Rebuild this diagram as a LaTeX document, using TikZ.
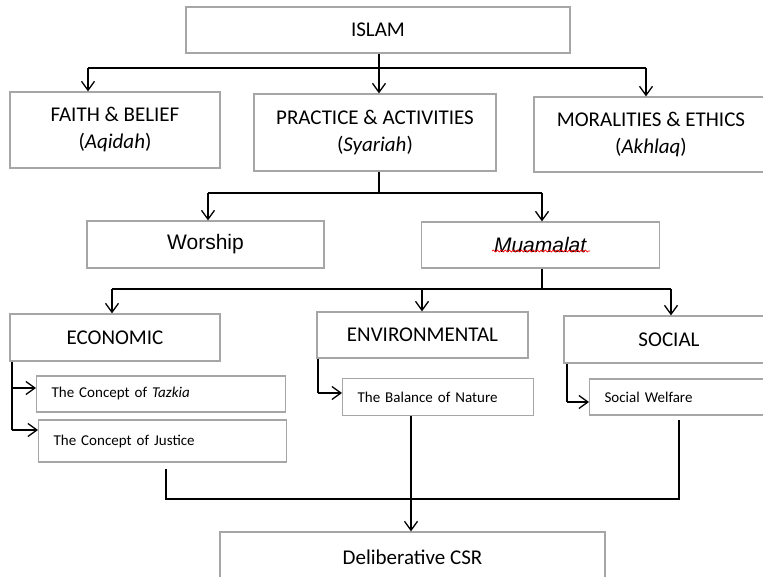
\documentclass[tikz,border=0pt]{standalone}
\usepackage{fontspec}
\setmainfont{Carlito}
\newfontfamily\arialfont{Liberation Sans}
\usetikzlibrary{arrows.meta,decorations.pathmorphing}
\definecolor{boxgray}{HTML}{A6A6A6}
\tikzset{
	box/.style={draw=boxgray, line width=1.2pt, align=center, inner sep=0pt, font=\fontsize{21}{27}\selectfont},
	subbox/.style={draw=boxgray, line width=1.2pt, align=left, anchor=west, inner xsep=15pt, inner ysep=0pt, font=\fontsize{15}{18}\selectfont},
	link/.style={line width=1.3pt},
}
\begin{document}
\begin{tikzpicture}[x=1pt, y=-1pt, >={Straight Barb[length=9pt,width=13pt]}]
	    \clip (0,0) rectangle (763,577);
	    \fill[white] (0,0) rectangle (763,577);

	    \node[box, minimum width=384pt, minimum height=46pt] (islam) at (378,30) {ISLAM};
	    \node[box, minimum width=210pt, minimum height=76pt] (faith) at (115,130) {FAITH \& BELIEF\\(\textit{Aqidah})};
	    \node[box, minimum width=242pt, minimum height=77pt] (practice) at (375,132.5) {PRACTICE \& ACTIVITIES\\(\textit{Syariah})};
	    \node[box, minimum width=234pt, minimum height=75pt] (moral) at (651,134.5) {MORALITIES \& ETHICS\\(\textit{Akhlaq})};
	    \node[box, minimum width=237pt, minimum height=47pt, font=\arialfont\fontsize{21}{25}\selectfont] (worship) at (205.5,244.5) {Worship};
	    \node[box, minimum width=238pt, minimum height=46pt, font=\arialfont\fontsize{21}{25}\selectfont] (muamalat) at (540.5,245) {\textit{Muamalat}};
	    \node[box, minimum width=210pt, minimum height=47pt] (econ) at (115,337.5) {ECONOMIC};
	    \node[box, minimum width=211pt, minimum height=46pt] (env) at (422.5,335) {ENVIRONMENTAL};
	    \node[box, minimum width=210pt, minimum height=47pt] (social) at (669,339.5) {SOCIAL};
	    \node[subbox, text width=219pt, minimum height=36pt] (tazkia) at (36,394) {The Concept of \textit{Tazkia}};
	    \node[subbox, text width=218pt, minimum height=42pt] (justice) at (38,441) {The Concept of Justice};
	    \node[subbox, text width=161pt, minimum height=37pt] (balance) at (342,397) {The Balance of Nature};
	    \node[subbox, text width=160pt, minimum height=36pt] (welfare) at (589,397) {Social Welfare};
	    \node[box, minimum width=385pt, minimum height=50pt] (csr) at (412.5,557) {Deliberative CSR};

	    \draw[red, line width=0.7pt, decorate, decoration={snake, amplitude=1pt, segment length=4pt}] (492,251) -- (590,251);

	    \coordinate (r1l) at (88,68);
	    \coordinate (r1m) at (379,68);
	    \coordinate (r1r) at (646,68);
	    \coordinate (r2l) at (208,193);
	    \coordinate (r2m) at (379,193);
	    \coordinate (r2r) at (542,193);
	    \coordinate (r3l) at (112,289);
	    \coordinate (r3m) at (422,289);
	    \coordinate (r3r) at (671,289);
	    \coordinate (ta) at (12,388);
	    \coordinate (ja) at (12,430);
	    \coordinate (na) at (318,393);
	    \coordinate (sa) at (567,402);
	    \coordinate (b1) at (166,499);
	    \coordinate (b2) at (679,499);
	    \coordinate (bm) at (411,499);

	    \path[link]
		(r1m |- islam.south) edge (r1m)
		(r1l) edge (r1r)
		(r1l) edge[->] (r1l |- faith.north)
		(r1m) edge[->] (r1m |- practice.north)
		(r1r) edge[->] (r1r |- moral.north)
		(r2m |- practice.south) edge (r2m)
		(r2l) edge (r2r)
		(r2l) edge[->] (r2l |- worship.north)
		(r2r) edge[->] (r2r |- muamalat.north)
		(r2r |- muamalat.south) edge (r2r |- r3r)
		(r3l) edge (r3r)
		(r3l) edge[->] (r3l |- econ.north)
		(r3m) edge[->] (r3m |- env.north)
		(r3r) edge[->] (r3r |- social.north)
		(ja |- econ.south) edge (ja)
		(ta) edge[->] (ta -| tazkia.west)
		(ja) edge[->] (ja -| justice.west)
		(na |- env.south) edge (na)
		(na) edge[->] (na -| balance.west)
		(sa |- social.south) edge (sa)
		(sa) edge[->] (sa -| welfare.west)
		(bm |- balance.south) edge[->] (bm |- csr.north)
		;
	    \draw[link] ([yshift=-6pt]b1 |- justice.south) -- (b1) -- (b2) -- ([yshift=-4pt]b2 |- welfare.south);
	\end{tikzpicture}
\end{document}
